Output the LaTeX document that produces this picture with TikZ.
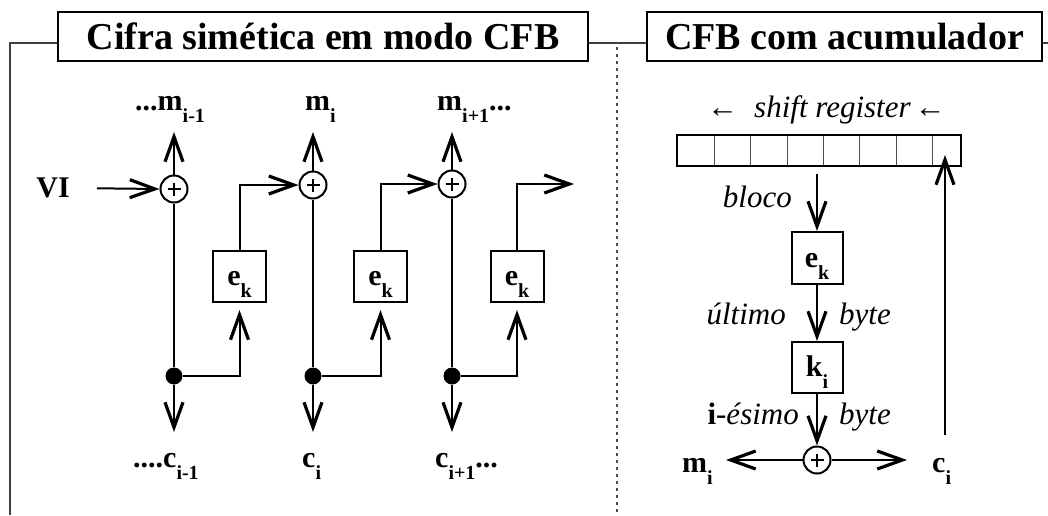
\documentclass[tikz,border=0pt]{standalone}
\usepackage{fontspec}
\setmainfont{Liberation Serif}
\usetikzlibrary{arrows.meta,calc}
% lowered, smaller index set after a symbol
\newcommand{\lowsub}[1]{\raisebox{-12pt}{\fontsize{20}{20}\selectfont #1}}
\newcommand{\shiftarrow}{{\upshape ←}}
\begin{document}
\begin{tikzpicture}[x=1pt,y=-1pt,
  wire/.style={line width=2pt},
  arr/.style={wire,-{Straight Barb[length=25pt,width=18pt,line width=3.2pt]}},
  titlebox/.style={draw,line width=2pt,minimum height=49pt,inner sep=0pt,
    font=\bfseries\fontsize{38}{38}\selectfont},
  frameline/.style={line width=2pt,draw=black!75},
  lbl/.style={inner sep=0pt,font=\bfseries\fontsize{30}{30}\selectfont},
  ilbl/.style={inner sep=0pt,font=\itshape\fontsize{31}{31}\selectfont},
  blk/.style={draw,line width=2pt,minimum width=53pt,minimum height=51pt,inner sep=0pt},
  xor/.style={draw,circle,line width=2pt,minimum size=27pt,inner sep=0pt,
    path picture={\draw[line width=2pt]
      ([xshift=-6.5pt]path picture bounding box.center) -- ([xshift=6.5pt]path picture bounding box.center)
      ([yshift=-6.5pt]path picture bounding box.center) -- ([yshift=6.5pt]path picture bounding box.center);}},
  junction/.style={circle,fill,minimum size=17pt,inner sep=0pt}
]
\useasboundingbox (0,0) rectangle (1048,515);

% ---- titles and frame ----
\node[titlebox,minimum width=530pt] (t1) at (323,36.5) {Cifra simética em modo CFB};
\node[titlebox,minimum width=395pt] (t2) at (844.5,36.5) {CFB com acumulador};
\coordinate (fbl) at (10,515);
\coordinate (fcl) at (10,43);
\coordinate (fr) at (1048,43);
\draw[frameline] (fbl) -- (fcl) -- (t1.west |- fcl);
\draw[frameline] (t1.east |- fcl) -- (t2.west |- fcl);
\draw[frameline] (t2.east |- fcl) -- (fr);
\coordinate (sepTop) at (617,47);
\coordinate (sepBot) at (617,515);
\draw[line width=1.5pt,black!70,dash pattern=on 3pt off 4pt] (sepTop) -- (sepBot);

% ---- CFB chain ----
\node[xor] (o1) at (174,189) {};
\node[xor] (o2) at (313,185) {};
\node[xor] (o3) at (452,184) {};
\node[junction] (d1) at (174,376) {};
\node[junction] (d2) at (313,376) {};
\node[junction] (d3) at (452,376) {};
\node[blk] (b1) at (239.5,276.5) {};
\node[blk] (b2) at (380.5,276.5) {};
\node[blk] (b3) at (517,276.5) {};
\node[lbl,anchor=base] (b1t) at (239.5,285) {e\lowsub{k}};
\node[lbl,anchor=base] (b2t) at (380.5,285) {e\lowsub{k}};
\node[lbl,anchor=base] (b3t) at (517,285) {e\lowsub{k}};

\coordinate (u1) at (174,132);
\coordinate (u2) at (313,132);
\coordinate (u3) at (452,132);
\coordinate (v1) at (174,432);
\coordinate (v2) at (313,432);
\coordinate (v3) at (452,432);
\coordinate (out3) at (574,184);

\node[lbl,anchor=east] (vi) at (70,188) {VI};
\draw[arr,shorten <=27pt] (vi.east) -- (o1.west);

\draw[arr] (o1.north) -- (u1);
\draw[arr] (o2.north) -- (u2);
\draw[arr] (o3.north) -- (u3);
\draw[wire] (o1.south) -- (d1);
\draw[wire] (o2.south) -- (d2);
\draw[wire] (o3.south) -- (d3);
\draw[arr] (d1) -- (v1);
\draw[arr] (d2) -- (v2);
\draw[arr] (d3) -- (v3);
\draw[arr,shorten >=7pt] (d1) -| (b1.south);
\draw[arr,shorten >=7pt] (d2) -| (b2.south);
\draw[arr,shorten >=7pt] (d3) -| (b3.south);
\draw[arr] (b1.north) |- (o2.west);
\draw[arr] (b2.north) |- (o3.west);
\draw[arr] (b3.north) |- (out3);

\node[lbl,anchor=base west] (lm1) at (135,110) {...m\lowsub{i-1}};
\node[lbl,anchor=base west] (lm2) at (305,110) {m\lowsub{i}};
\node[lbl,anchor=base west] (lm3) at (437,110) {m\lowsub{i+1}...};
\node[lbl,anchor=base west] (lc1) at (133,467) {....c\lowsub{i-1}};
\node[lbl,anchor=base west] (lc2) at (302,467) {c\lowsub{i}};
\node[lbl,anchor=base west] (lc3) at (435,467) {c\lowsub{i+1}...};

% ---- CFB with accumulator ----
\node[ilbl,anchor=base west] (srl) at (707,117) {\shiftarrow\hspace{16pt}shift register\hspace{4pt}\shiftarrow};
\node[draw,line width=2pt,minimum width=284pt,minimum height=31pt,inner sep=0pt] (reg) at (819,150.5) {};
\foreach \cx in {714,750,787,823,859,896,932}
  \draw[line width=1pt,black!70] (\cx,136) -- (\cx,165);

\node[blk,minimum width=51pt,minimum height=52pt] (ek) at (817,258) {};
\node[lbl,anchor=base] (ekt) at (817,267) {e\lowsub{k}};
\node[blk,minimum width=51pt] (ki) at (817,367.5) {};
\node[lbl,anchor=base] (kit) at (817,376) {k\lowsub{i}};
\node[xor] (xr) at (817,460) {};

\coordinate (mt) at (726,460);
\coordinate (ct) at (907,460);
\coordinate (fb0) at (945,435);
\coordinate (fb1) at (945,155);

\draw[arr,shorten <=7pt] (ek.north |- reg.south) -- (ek.north);
\draw[arr] (ek.south) -- (ki.north);
\draw[arr] (ki.south) -- (xr.north);
\draw[arr] (xr.west) -- (mt);
\draw[arr] (xr.east) -- (ct);
\draw[arr] (fb0) -- (fb1);

\node[ilbl,anchor=base east] (lbloco) at (792,207) {bloco};
\node[ilbl,anchor=base east] (lult) at (786,324) {último};
\node[ilbl,anchor=base west] (lby1) at (839,324) {byte};
\node[ilbl,anchor=base east] (lies) at (799,424) {{\upshape\bfseries i}{\upshape -}ésimo};
\node[ilbl,anchor=base west] (lby2) at (839,424) {byte};
\node[lbl,anchor=base west] (lmi) at (682,472) {m\lowsub{i}};
\node[lbl,anchor=base west] (lci) at (932,472) {c\lowsub{i}};
\end{tikzpicture}
\end{document}
